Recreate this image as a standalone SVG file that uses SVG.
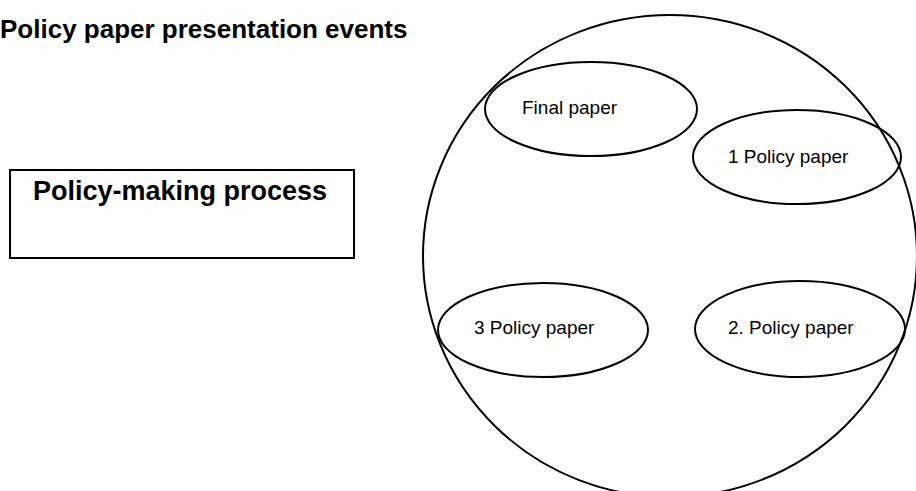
<svg xmlns="http://www.w3.org/2000/svg" width="916" height="491" viewBox="0 0 916 491">
  <style>
    .bold { font-family: "Liberation Sans", Arial, sans-serif; font-weight: bold; fill: #000; }
    .lbl { font-family: "Liberation Sans", Arial, sans-serif; font-size: 19px; fill: #000; }
    .shape { fill: none; stroke: #000; stroke-width: 2; }
  </style>
  <rect width="916" height="491" fill="#fff"/>

  <!-- heading -->
  <text id="title" class="bold" x="0" y="38" font-size="26">Policy paper presentation events</text>

  <!-- process box -->
  <g id="process">
    <rect class="shape" x="10" y="170" width="344" height="88"/>
    <text class="bold" x="33" y="200" font-size="27">Policy-making process</text>
  </g>

  <!-- events circle -->
  <g id="events">
    <ellipse class="shape" cx="670" cy="256" rx="247" ry="241"/>
  </g>

  <g id="final-paper">
    <ellipse class="shape" cx="591" cy="109" rx="106" ry="47"/>
    <text class="lbl" x="522" y="114">Final paper</text>
  </g>

  <g id="policy-paper-1">
    <ellipse class="shape" cx="797" cy="157" rx="104" ry="47"/>
    <text class="lbl" x="728" y="163">1  Policy paper</text>
  </g>

  <g id="policy-paper-3">
    <ellipse class="shape" cx="543" cy="330" rx="105" ry="47"/>
    <text class="lbl" x="474" y="334">3  Policy paper</text>
  </g>

  <g id="policy-paper-2">
    <ellipse class="shape" cx="800" cy="329" rx="105" ry="48"/>
    <text class="lbl" x="728" y="334">2. Policy paper</text>
  </g>

  <g id="connectors"></g>
</svg>
